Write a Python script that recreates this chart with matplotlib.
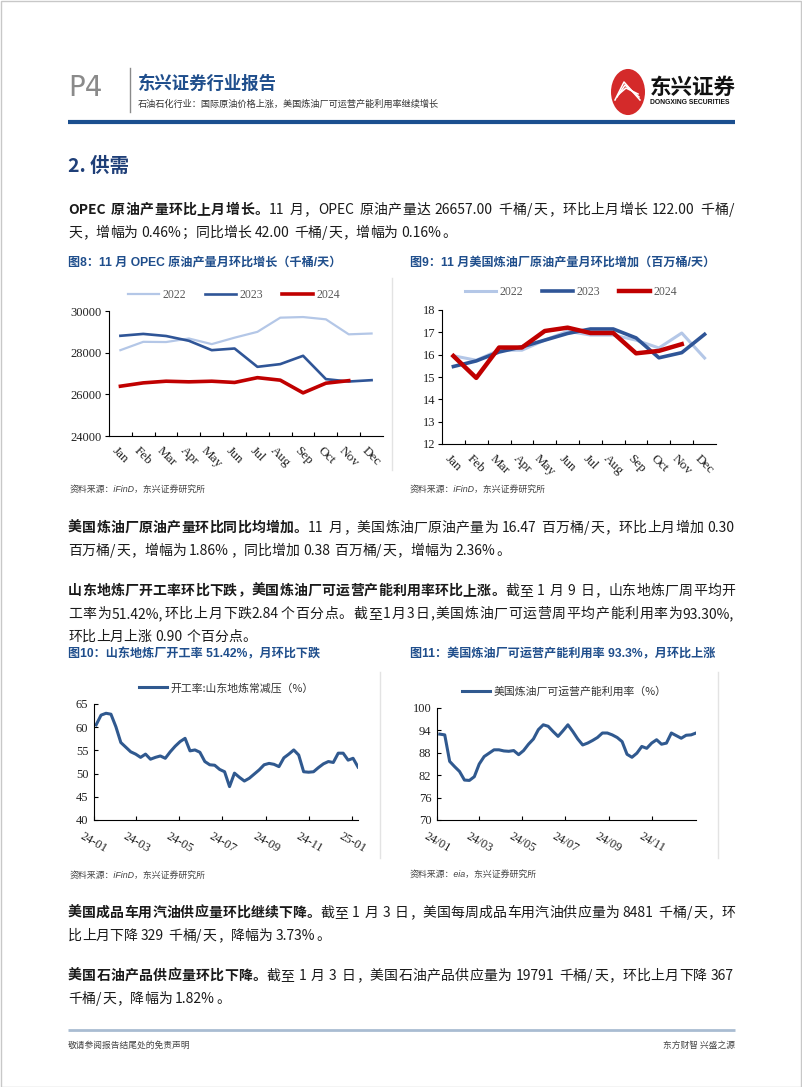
import numpy as np
import pandas as pd
import matplotlib
matplotlib.use('Agg')
import matplotlib.pyplot as plt
from matplotlib.lines import Line2D
from matplotlib.patches import Circle, Rectangle

# ---------------- data ----------------
months = ['Jan', 'Feb', 'Mar', 'Apr', 'May', 'Jun', 'Jul', 'Aug', 'Sep', 'Oct', 'Nov', 'Dec']
years = ['2022', '2023', '2024']

# OPEC crude output, kb/d
opec_2022 = [28120, 28520, 28510, 28680, 28410, 28720, 29000, 29680, 29710, 29600, 28880, 28920]
opec_2023 = [28810, 28900, 28800, 28570, 28120, 28200, 27320, 27450, 27850, 26730, 26615, 26680]
opec_2024 = [26390, 26550, 26630, 26600, 26630, 26570, 26800, 26680, 26070, 26535, 26657]

# US refinery crude input, mb/d
us_2022 = [15.95, 15.75, 16.20, 16.20, 16.65, 17.05, 16.88, 16.88, 16.65, 16.30, 16.97, 15.85]
us_2023 = [15.47, 15.72, 16.12, 16.35, 16.65, 16.95, 17.15, 17.15, 16.75, 15.86, 16.09, 16.91]
us_2024 = [15.94, 14.96, 16.32, 16.32, 17.06, 17.21, 16.97, 16.97, 16.06, 16.17, 16.47]

# Shandong independent refineries run rate, weekly (last week 2025-01-09)
sd_rate = [60.5, 62.6, 63.0, 62.8, 60.1, 56.7, 55.7, 54.7, 54.2, 53.5,
           54.2, 53.1, 53.5, 53.8, 53.3, 54.7, 55.9, 56.9, 57.6, 54.9,
           55.1, 54.6, 52.6, 51.9, 51.8, 50.9, 50.4, 47.2, 50.1, 49.2,
           48.4, 49.0, 49.9, 50.8, 51.9, 52.2, 52.0, 51.5, 53.4, 54.2,
           55.1, 54.0, 50.4, 50.3, 50.4, 51.3, 52.1, 52.6, 52.4, 54.4,
           54.4, 52.9, 53.3, 51.42]
sd_dates = pd.date_range(end='2025-01-09', periods=len(sd_rate), freq='7D')

# US refinery operable capacity utilization, weekly (last week 2025-01-03)
us_util = [93.0, 92.8, 85.7, 84.3, 83.0, 80.7, 80.6, 81.6, 85.0, 87.0,
           87.9, 88.8, 88.8, 88.5, 88.4, 88.6, 87.5, 88.6, 90.3, 91.7,
           94.2, 95.5, 95.1, 93.7, 92.4, 93.9, 95.5, 93.7, 91.7, 90.1,
           90.6, 91.3, 92.1, 93.3, 93.3, 92.8, 92.1, 91.0, 87.6, 86.8,
           87.9, 89.7, 89.2, 90.6, 91.5, 90.3, 90.6, 93.3, 92.6, 91.9,
           92.7, 92.8, 93.3]
util_dates = pd.date_range(end='2025-01-03', periods=len(us_util), freq='7D')

# ---------------- styling ----------------
W, H = 802, 1087
CJK = ['Noto Sans CJK SC', 'DejaVu Sans']
BODY = ['Liberation Sans Narrow', 'Noto Sans CJK SC', 'DejaVu Sans']
SERIF = ['Liberation Serif', 'DejaVu Serif']
NAVY = '#1F4E8C'
TXT = '#1a1a1a'
C22, C23, C24 = '#B4C7E7', '#2F5597', '#C00000'
LINE_BLUE = '#30598F'

fig = plt.figure(figsize=(W / 100, H / 100), dpi=100)
renderer = fig.canvas.get_renderer()


def fx(x):
    return x / W


def fy(y):
    return 1 - y / H


def rect(l, t, r, b):
    return [fx(l), fy(b), (r - l) / W, (b - t) / H]


def hline(x0, x1, y, color, lw):
    fig.add_artist(Line2D([fx(x0), fx(x1)], [fy(y), fy(y)], color=color, lw=lw,
                          transform=fig.transFigure, solid_capstyle='butt'))


def vline(x, y0, y1, color, lw):
    fig.add_artist(Line2D([fx(x), fx(x)], [fy(y0), fy(y1)], color=color, lw=lw,
                          transform=fig.transFigure))


def tokens(s):
    out, buf = [], ''
    for ch in s:
        if ord(ch) < 128 and ch != ' ':
            buf += ch
        else:
            if buf:
                out.append(buf)
                buf = ''
            out.append(ch)
    if buf:
        out.append(buf)
    return out


def body_line(y, parts, justify=True, x0=68, x1=735, size=10.0):
    em = size * 100 / 72
    objs, widths = [], []
    for txt, bold in parts:
        for tk in tokens(txt):
            if tk == ' ':
                objs.append(None)
                widths.append(em * 0.25)
                continue
            t = fig.text(0, fy(y), tk, fontsize=size, family=BODY, color=TXT,
                         fontweight='bold' if bold else 'normal', va='center', ha='left')
            if ord(tk[0]) > 127:
                w = em
            else:
                w = t.get_window_extent(renderer).width + 1
            objs.append(t)
            widths.append(w)
    gap = (x1 - x0 - sum(widths)) / (len(widths) - 1) if justify else 0
    x = x0
    for t, w in zip(objs, widths):
        if t is not None:
            t.set_x(fx(x))
        x += w + gap


# ---------------- page frame / header ----------------
fig.add_artist(Rectangle((0.5 / W, 0.5 / H), 1 - 1.5 / W, 1 - 1.5 / H, fill=False,
                         edgecolor='#c8c8c8', lw=1, transform=fig.transFigure))
fig.text(fx(68), fy(88), 'P4', fontsize=20, family=['Liberation Sans Narrow', 'DejaVu Sans'],
         color='#8a8a8a', va='center', ha='left')
vline(130, 68, 112, '#8a8a8a', 1.0)
fig.text(fx(138), fy(84), '东兴证券行业报告', fontsize=12.5, family=CJK, fontweight='bold',
         color=NAVY, va='center', ha='left')
fig.text(fx(138), fy(104), '石油石化行业：国际原油价格上涨，美国炼油厂可运营产能利用率继续增长',
         fontsize=6.6, family=CJK, color='#333333', va='center', ha='left', style='italic')

# logo
fig.add_artist(Circle((fx(628), fy(92)), 17 / W, transform=fig.transFigure,
                      facecolor='#D42A2A', edgecolor='none'))
for k in range(3):
    fig.add_artist(Line2D([fx(615 + k * 2), fx(624 + k), fx(640 - k)],
                          [fy(100 - k * 3), fy(82 + k * 3), fy(100 - k * 3)],
                          transform=fig.transFigure, color='white', lw=1.1))
fig.text(fx(650), fy(87), '东兴证券', fontsize=15.5, family=CJK, fontweight='heavy',
         color='#111111', va='center', ha='left')
fig.text(fx(650), fy(103), 'DONGXING SECURITIES', fontsize=4.9, family=['Liberation Sans', 'DejaVu Sans'],
         fontweight='bold', color='#111111', va='center', ha='left')
hline(68, 735, 122, '#1B4F8F', 3)

# section heading
fig.text(fx(68), fy(166), '2. 供需', fontsize=14, family=['Liberation Sans Narrow'] + CJK,
         fontweight='bold', color='#1F3F78', va='center', ha='left')

# ---------------- body text ----------------
body_line(210, [('OPEC 原油产量环比上月增长。', True),
                ('11 月，OPEC 原油产量达 26657.00 千桶/天，环比上月增长 122.00 千桶/', False)])
body_line(233, [('天，增幅为 0.46%；同比增长 42.00 千桶/天，增幅为 0.16%。', False)], justify=False)

body_line(528, [('美国炼油厂原油产量环比同比均增加。', True),
                ('11 月，美国炼油厂原油产量为 16.47 百万桶/天，环比上月增加 0.30', False)])
body_line(551, [('百万桶/天，增幅为 1.86%，同比增加 0.38 百万桶/天，增幅为 2.36%。', False)], justify=False)

body_line(591, [('山东地炼厂开工率环比下跌，美国炼油厂可运营产能利用率环比上涨。', True),
                ('截至 1 月 9 日，山东地炼厂周平均开', False)])
body_line(614, [('工率为51.42%,环比上月下跌2.84个百分点。截至1月3日,美国炼油厂可运营周平均产能利用率为93.30%,', False)])
body_line(637, [('环比上月上涨 0.90 个百分点。', False)], justify=False)

body_line(913, [('美国成品车用汽油供应量环比继续下降。', True),
                ('截至 1 月 3 日，美国每周成品车用汽油供应量为 8481 千桶/天，环', False)])
body_line(936, [('比上月下降 329 千桶/天，降幅为 3.73%。', False)], justify=False)

body_line(976, [('美国石油产品供应量环比下降。', True),
                ('截至 1 月 3 日，美国石油产品供应量为 19791 千桶/天，环比上月下降 367', False)])
body_line(999, [('千桶/天，降幅为 1.82%。', False)], justify=False)

# footer
hline(68, 735, 1030, '#A9BCD2', 2)
fig.text(fx(68), fy(1045), '敬请参阅报告结尾处的免责声明', fontsize=6.3, family=CJK,
         color='#444444', va='center', ha='left')
fig.text(fx(735), fy(1045), '东方财智 兴盛之源', fontsize=6.3, family=CJK,
         color='#444444', va='center', ha='right')

# ---------------- chart titles / sources ----------------
titles = [(68, 262, '图8：11 月 OPEC 原油产量月环比增长（千桶/天）'),
          (410, 262, '图9：11 月美国炼油厂原油产量月环比增加（百万桶/天）'),
          (68, 654, '图10：山东地炼厂开工率 51.42%，月环比下跌'),
          (410, 654, '图11：美国炼油厂可运营产能利用率 93.3%，月环比上涨')]
for x, y, s in titles:
    fig.text(fx(x), fy(y), s, fontsize=8.7, family=['Liberation Sans'] + CJK, fontweight='bold',
             color=NAVY, va='center', ha='left')

sources = [(70, 490, '资料来源：iFinD，东兴证券研究所'),
           (410, 490, '资料来源：iFinD，东兴证券研究所'),
           (70, 876, '资料来源：iFinD，东兴证券研究所'),
           (410, 875, '资料来源：eia，东兴证券研究所')]
for x, y, s in sources:
    fig.text(fx(x), fy(y), s, fontsize=6.4, family=['Liberation Sans'] + CJK, style='italic',
             color='#444444', va='center', ha='left')

# faint panel edges
vline(392, 278, 470, '#e3e3e3', 1)
vline(380, 672, 858, '#e3e3e3', 1)
vline(718, 672, 858, '#e3e3e3', 1)


def style_axes(ax):
    for side in ['top', 'right']:
        ax.spines[side].set_visible(False)
    for side in ['left', 'bottom']:
        ax.spines[side].set_color('#000000')
        ax.spines[side].set_linewidth(0.8)
    ax.patch.set_alpha(0)


def month_chart(box, series, widths, ylim, yticks, legend_xy):
    ax = fig.add_axes(rect(*box))
    style_axes(ax)
    colors = [C22, C23, C24]
    for (label, vals), c, lw in zip(series, colors, widths):
        ax.plot(np.arange(len(vals)), vals, color=c, lw=lw, label=label)
    ax.set_xlim(-0.5, 11.5)
    ax.set_ylim(*ylim)
    ax.set_yticks(yticks)
    ax.set_xticks(np.arange(12))
    ax.set_xticklabels(months, rotation=-45, ha='center', rotation_mode='default')
    ax.set_xticks(np.arange(0.5, 11.5, 1), minor=True)
    ax.tick_params(axis='x', which='major', length=0, pad=6, labelsize=9.5)
    ax.tick_params(axis='x', which='minor', direction='in', length=3, width=0.8)
    ax.tick_params(axis='y', direction='out', length=3, width=0.8, pad=2, labelsize=9)
    for lab in ax.get_xticklabels() + ax.get_yticklabels():
        lab.set_fontfamily(SERIF)
        lab.set_color('#222222')
    leg = ax.legend(loc='center', bbox_to_anchor=(fx(legend_xy[0]), fy(legend_xy[1])),
                    bbox_transform=fig.transFigure, ncol=3, frameon=False,
                    prop={'family': SERIF, 'size': 8.5}, handlelength=2.6,
                    handletextpad=0.3, columnspacing=1.6, borderpad=0)
    for t in leg.get_texts():
        t.set_color('#595959')
    return ax


month_chart((109, 311, 383, 436),
            [(years[0], opec_2022), (years[1], opec_2023), (years[2], opec_2024)],
            [1.6, 1.9, 2.6], (24000, 30000), np.arange(24000, 30001, 2000), (234, 295))
month_chart((442, 310, 716, 444),
            [(years[0], us_2022), (years[1], us_2023), (years[2], us_2024)],
            [2.2, 2.6, 3.2], (12, 18), np.arange(12, 19, 1), (571, 292))


def weekly_chart(box, dates, vals, label, ylim, yticks, ticks, fmt, xlim, legend_xy):
    ax = fig.add_axes(rect(*box))
    style_axes(ax)
    ax.plot(dates, vals, color=LINE_BLUE, lw=2.2, label=label)
    ax.set_ylim(*ylim)
    ax.set_yticks(yticks)
    ax.set_xlim(*xlim)
    tick_dates = pd.to_datetime(ticks)
    ax.set_xticks(tick_dates)
    ax.set_xticklabels([d.strftime(fmt) for d in tick_dates], rotation=-30, ha='center')
    ax.tick_params(axis='x', direction='in', length=3, width=0.8, pad=7, labelsize=9)
    ax.tick_params(axis='y', direction='in', length=3, width=0.8, pad=4, labelsize=9)
    for lab in ax.get_xticklabels() + ax.get_yticklabels():
        lab.set_fontfamily(SERIF)
        lab.set_color('#222222')
    leg = ax.legend(loc='center', bbox_to_anchor=(fx(legend_xy[0]), fy(legend_xy[1])),
                    bbox_transform=fig.transFigure, frameon=False,
                    prop={'family': CJK, 'size': 7.8}, handlelength=2.6,
                    handletextpad=0.3, borderpad=0)
    for t in leg.get_texts():
        t.set_color('#333333')
    return ax


weekly_chart((94, 704, 358, 820), sd_dates, sd_rate, '开工率:山东地炼常减压（%）',
             (40, 65), np.arange(40, 66, 5),
             ['2024-01-01', '2024-03-01', '2024-05-01', '2024-07-01', '2024-09-01',
              '2024-11-01', '2025-01-01'], '%y-%m',
             (pd.Timestamp('2024-01-01'), sd_dates[-1]), (226, 688))
weekly_chart((437, 708, 696, 820), util_dates, us_util, '美国炼油厂可运营产能利用率（%）',
             (70, 100), np.arange(70, 101, 6),
             ['2024-01-01', '2024-03-01', '2024-05-01', '2024-07-01', '2024-09-01',
              '2024-11-01'], '%y/%m',
             (pd.Timestamp('2024-01-03'), util_dates[-1]), (564, 692))

fig.savefig('out.png', dpi=100)
